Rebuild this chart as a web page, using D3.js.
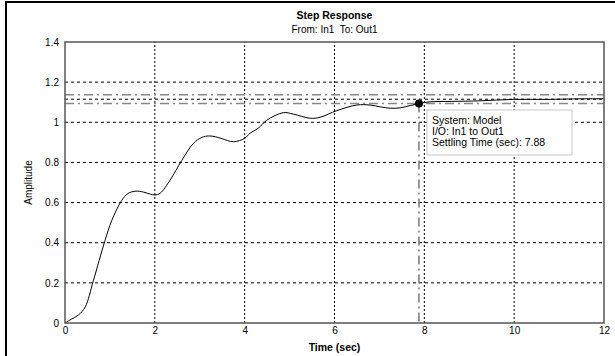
<!DOCTYPE html>
<html>
<head>
<meta charset="utf-8">
<script src="https://cdn.jsdelivr.net/npm/d3@7"></script>
<style>
  body { margin: 0; background: #fff; }
  svg { display: block; font-family: "Liberation Sans", Arial, sans-serif; }
</style>
</head>
<body>
<div id="chart"></div>
<script>
"use strict";

// step response samples
const time = [0, 0.11, 0.3, 0.45, 0.63, 0.89, 1.04, 1.26, 1.4, 1.58, 1.75, 1.9, 2.0, 2.12, 2.34, 2.6, 2.86,
  3.05, 3.2, 3.35, 3.5, 3.75, 4.0, 4.12, 4.3, 4.49, 4.86, 5.08, 5.46, 5.68, 6.05, 6.5, 6.79, 7.02,
  7.24, 7.46, 7.7, 7.88, 8.13, 8.6, 9.24, 9.98, 10.73, 11.5, 12];
const amplitude = [0, 0.015, 0.04, 0.08, 0.21, 0.41, 0.51, 0.61, 0.645, 0.657, 0.652, 0.642, 0.638, 0.647, 0.712, 0.81, 0.895,
  0.925, 0.932, 0.928, 0.918, 0.903, 0.92, 0.946, 0.97, 1.01, 1.048, 1.041, 1.02, 1.025, 1.058, 1.086, 1.086, 1.077,
  1.07, 1.072, 1.084, 1.093, 1.102, 1.104, 1.107, 1.114, 1.114, 1.117, 1.117];

const xTicks = [0, 2, 4, 6, 8, 10, 12];
const yTicks = [0, 0.2, 0.4, 0.6, 0.8, 1, 1.2, 1.4];
const finalValue = 1.115;
const settleBounds = [1.137, 1.093];
const settlingTime = 7.88;
const settlingY = 1.093;
const tipLines = ["System: Model", "I/O: In1 to Out1", "Settling Time (sec): 7.88"];

const W = 615, H = 356;
const m = {left: 65, right: 11, top: 42, bottom: 33};

const svg = d3.select("#chart").append("svg")
  .attr("width", W).attr("height", H);

// figure frame (top and left only)
svg.append("rect").attr("x", 5).attr("y", 1).attr("width", W - 5).attr("height", 2).attr("fill", "#000");
svg.append("rect").attr("x", 5).attr("y", 1).attr("width", 2).attr("height", H).attr("fill", "#000");

const x = d3.scaleLinear().domain([0, 12]).range([m.left, W - m.right]);
const y = d3.scaleLinear().domain([0, 1.4]).range([H - m.bottom, m.top]);

const g = svg.append("g");

// grid
g.selectAll(".vgrid").data(xTicks.slice(1, -1)).enter().append("line")
  .attr("x1", d => x(d)).attr("x2", d => x(d))
  .attr("y1", y(0)).attr("y2", y(1.4))
  .attr("stroke", "#000").attr("stroke-width", 1).attr("stroke-dasharray", "2,2");
g.selectAll(".hgrid").data(yTicks.slice(1, -1)).enter().append("line")
  .attr("x1", x(0)).attr("x2", x(12))
  .attr("y1", d => y(d)).attr("y2", d => y(d))
  .attr("stroke", "#000").attr("stroke-width", 1).attr("stroke-dasharray", "3,3");

// settling bounds
g.selectAll(".bound").data(settleBounds).enter().append("line")
  .attr("x1", x(0)).attr("x2", x(12))
  .attr("y1", d => y(d)).attr("y2", d => y(d))
  .attr("stroke", "#888").attr("stroke-width", 1.5).attr("stroke-dasharray", "9,4,2,4");
// final value
g.append("line")
  .attr("x1", x(0)).attr("x2", x(12))
  .attr("y1", y(finalValue)).attr("y2", y(finalValue))
  .attr("stroke", "#000").attr("stroke-width", 1).attr("stroke-dasharray", "3,3");
// settling time marker line
g.append("line")
  .attr("x1", x(settlingTime)).attr("x2", x(settlingTime))
  .attr("y1", y(settlingY)).attr("y2", y(0))
  .attr("stroke", "#777").attr("stroke-width", 1.5).attr("stroke-dasharray", "9,4,2,4");

// response curve
const line = d3.line().x((d, i) => x(time[i])).y(d => y(d)).curve(d3.curveCatmullRom);
g.append("path").datum(amplitude)
  .attr("d", line)
  .attr("fill", "none").attr("stroke", "#000").attr("stroke-width", 1);

// axes box
g.append("rect")
  .attr("x", x(0)).attr("y", y(1.4))
  .attr("width", x(12) - x(0)).attr("height", y(0) - y(1.4))
  .attr("fill", "none").attr("stroke", "#555").attr("stroke-width", 1.5);

// axes
const xAxis = d3.axisBottom(x).tickValues(xTicks).tickSize(0).tickPadding(4).tickFormat(d3.format("d"));
const yAxis = d3.axisLeft(y).tickValues(yTicks).tickSize(0).tickPadding(6).tickFormat(d => d3.format("")(+d.toFixed(1)));
svg.append("g").attr("transform", `translate(0,${y(0)})`).call(xAxis)
  .call(s => s.select(".domain").remove())
  .selectAll("text").attr("font-size", 10).attr("fill", "#000").attr("font-family", "Liberation Sans, Arial");
svg.append("g").attr("transform", `translate(${x(0)},0)`).call(yAxis)
  .call(s => s.select(".domain").remove())
  .selectAll("text").attr("font-size", 10).attr("fill", "#000").attr("font-family", "Liberation Sans, Arial");

// marker
g.append("circle").attr("cx", x(settlingTime)).attr("cy", y(settlingY)).attr("r", 4).attr("fill", "#000");

// datatip
const tip = svg.append("g");
tip.append("rect").attr("x", 427).attr("y", 110).attr("width", 145).attr("height", 45)
  .attr("fill", "#fff").attr("stroke", "#c8c8c8").attr("stroke-width", 1);
tip.selectAll("text").data(tipLines).enter().append("text")
  .attr("x", 432).attr("y", (d, i) => 124 + i * 11)
  .attr("font-size", 10.5).attr("fill", "#000").text(d => d);

// titles
svg.append("text").attr("x", (x(0) + x(12)) / 2).attr("y", 19).attr("text-anchor", "middle")
  .attr("font-size", 10.5).attr("font-weight", "bold").text("Step Response");
svg.append("text").attr("x", (x(0) + x(12)) / 2).attr("y", 33).attr("text-anchor", "middle")
  .attr("font-size", 10).style("white-space", "pre").text("From: In1  To: Out1");
svg.append("text").attr("x", (x(0) + x(12)) / 2).attr("y", 351).attr("text-anchor", "middle")
  .attr("font-size", 10.5).attr("font-weight", "bold").text("Time (sec)");
svg.append("text").attr("transform", `translate(32,${(y(0) + y(1.4)) / 2}) rotate(-90)`)
  .attr("text-anchor", "middle").attr("font-size", 10).text("Amplitude");
</script>
</body>
</html>
